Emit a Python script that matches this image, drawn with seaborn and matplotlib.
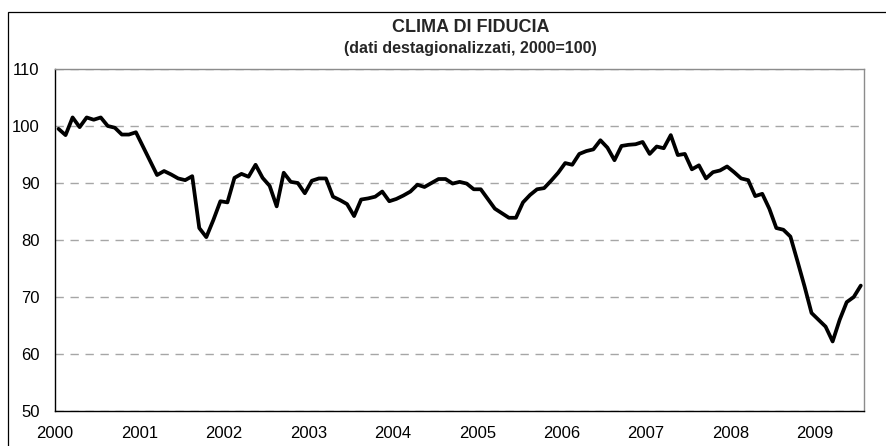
import numpy as np
import pandas as pd
import matplotlib
matplotlib.use("Agg")
import matplotlib.pyplot as plt
import seaborn as sns
from matplotlib.patches import Rectangle

# Clima di fiducia - dati mensili destagionalizzati (2000=100)
anni = ['2000', '2001', '2002', '2003', '2004', '2005', '2006', '2007', '2008', '2009']
v2000 = [99.5, 98.4, 101.5, 99.8, 101.5, 101.1, 101.5, 100.0, 99.7, 98.5, 98.5, 98.9]
v2001 = [96.4, 93.9, 91.4, 92.1, 91.5, 90.8, 90.5, 91.2, 82.1, 80.5, 83.5, 86.8]
v2002 = [86.6, 90.9, 91.6, 91.1, 93.2, 90.9, 89.5, 85.9, 91.8, 90.2, 90.0, 88.2]
v2003 = [90.4, 90.8, 90.8, 87.6, 87.0, 86.3, 84.2, 87.1, 87.3, 87.6, 88.5, 86.8]
v2004 = [87.2, 87.8, 88.5, 89.7, 89.3, 90.0, 90.7, 90.7, 89.9, 90.2, 89.9, 88.9]
v2005 = [88.9, 87.2, 85.5, 84.7, 83.9, 83.9, 86.6, 87.9, 88.9, 89.1, 90.4, 91.8]
v2006 = [93.5, 93.2, 95.1, 95.6, 95.9, 97.5, 96.2, 94.0, 96.5, 96.7, 96.8, 97.2]
v2007 = [95.1, 96.4, 96.1, 98.4, 94.9, 95.1, 92.4, 93.1, 90.8, 91.9, 92.2, 92.9]
v2008 = [91.9, 90.8, 90.5, 87.7, 88.1, 85.5, 82.1, 81.8, 80.6, 76.3, 71.9, 67.2]
v2009 = [66.0, 64.8, 62.2, 66.0, 69.1, 70.0, 72.0]

valori = v2000 + v2001 + v2002 + v2003 + v2004 + v2005 + v2006 + v2007 + v2008 + v2009
# ogni mese al centro del suo intervallo
dati = pd.DataFrame({'mese': np.arange(len(valori)) + 0.5, 'indice': valori})

sns.set_style('white')
plt.rcParams['font.family'] = ['Liberation Sans', 'DejaVu Sans']

fig = plt.figure(figsize=(8.86, 4.46), dpi=100)
ax = fig.add_axes([55 / 886, 1 - 411 / 446, (864.3 - 55) / 886, (411 - 69) / 446])

sns.lineplot(data=dati, x='mese', y='indice', ax=ax, color='black', linewidth=2.7)

ax.set_xlim(0, len(valori))
ax.set_ylim(50, 110)
ax.set_xticks(np.arange(len(anni)) * 12)
ax.set_xticklabels(anni)
ax.set_yticks(np.arange(50, 111, 10))
ax.set_xlabel('')
ax.set_ylabel('')

ax.set_axisbelow(True)
ax.yaxis.grid(True, linestyle=(0, (6, 4.8)), color='#a6a6a6', linewidth=1.0)
ax.xaxis.grid(False)

for lato in ['top', 'right']:
    ax.spines[lato].set_color('#8c8c8c')
    ax.spines[lato].set_linewidth(1.0)
for lato in ['left', 'bottom']:
    ax.spines[lato].set_color('black')
    ax.spines[lato].set_linewidth(1.0)

ax.tick_params(axis='both', direction='out', length=4, width=1, colors='black', labelsize=12)
ax.tick_params(axis='y', pad=7)
ax.tick_params(axis='x', pad=7)

# cornice esterna del grafico
fig.add_artist(Rectangle((8.3 / 886, -0.05), 1.1, 1 - 12 / 446 + 0.05, transform=fig.transFigure,
                         fill=False, edgecolor='black', linewidth=0.9))

fig.text(471 / 886, 1 - 28 / 446, 'CLIMA DI FIDUCIA', ha='center', va='center',
         fontsize=13, fontweight='bold')
fig.text(470 / 886, 1 - 49 / 446, '(dati destagionalizzati, 2000=100)', ha='center', va='center',
         fontsize=11.5, fontweight='bold')

fig.savefig('out.png', dpi=100)
